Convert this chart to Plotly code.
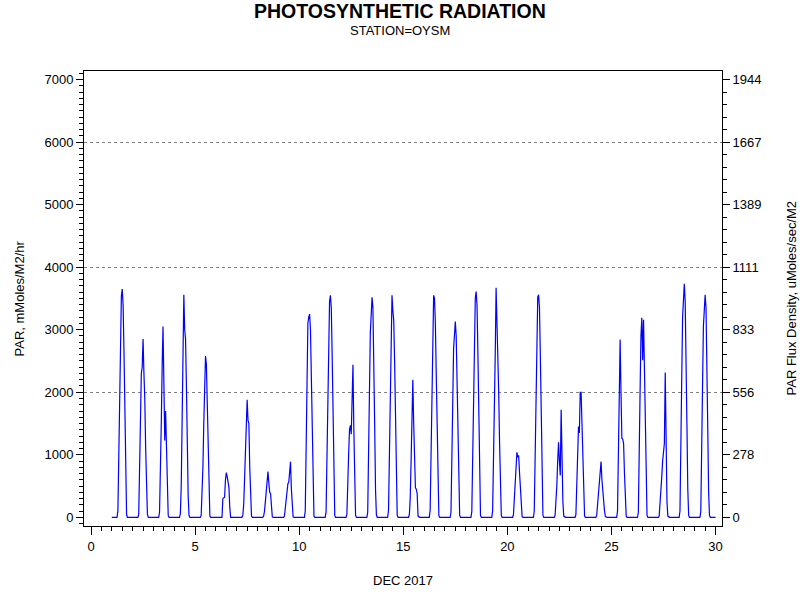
import plotly.graph_objects as go

# Hourly PAR (mMoles/M2/hr), hours 0..23, for Dec 1..29 2017, station OYSM
dec01 = [0, 0, 0, 0, 0, 0, 0, 110, 910, 2120, 3100, 3540, 3650, 3390, 2660, 1530, 440, 40, 0, 0, 0, 0, 0, 0]
dec02 = [0, 0, 0, 0, 0, 0, 0, 40, 700, 1900, 2300, 2400, 2850, 2300, 1900, 1100, 400, 50, 0, 0, 0, 0, 0, 0]
dec03 = [0, 0, 0, 0, 0, 0, 0, 80, 600, 1500, 2400, 3050, 2150, 1230, 1700, 1200, 450, 30, 0, 0, 0, 0, 0, 0]
dec04 = [0, 0, 0, 0, 0, 0, 0, 60, 500, 1500, 2700, 3560, 3000, 2850, 2100, 1100, 350, 30, 0, 0, 0, 0, 0, 0]
dec05 = [0, 0, 0, 0, 0, 0, 0, 30, 300, 800, 1500, 2100, 2580, 2450, 1700, 900, 250, 20, 0, 0, 0, 0, 0, 0]
dec06 = [0, 0, 0, 0, 0, 0, 0, 0, 300, 310, 320, 600, 714, 650, 510, 480, 150, 0, 0, 0, 0, 0, 0, 0]
dec07 = [0, 0, 0, 0, 0, 0, 0, 30, 200, 600, 1100, 1600, 1880, 1550, 1500, 800, 250, 20, 0, 0, 0, 0, 0, 0]
dec08 = [0, 0, 0, 0, 0, 0, 0, 20, 100, 250, 400, 600, 730, 550, 400, 380, 150, 10, 0, 0, 0, 0, 0, 0]
dec09 = [0, 0, 0, 0, 0, 0, 0, 20, 150, 350, 500, 540, 560, 700, 890, 450, 150, 10, 0, 0, 0, 0, 0, 0]
dec10 = [0, 0, 0, 0, 0, 0, 0, 100, 900, 2200, 3100, 3200, 3250, 3000, 2200, 1100, 300, 20, 0, 0, 0, 0, 0, 0]
dec11 = [0, 0, 0, 0, 0, 0, 0, 90, 850, 2050, 3000, 3450, 3550, 3350, 2600, 1450, 420, 30, 0, 0, 0, 0, 0, 0]
dec12 = [0, 0, 0, 0, 0, 0, 0, 50, 400, 1000, 1400, 1470, 1330, 2000, 2440, 1400, 400, 30, 0, 0, 0, 0, 0, 0]
dec13 = [0, 0, 0, 0, 0, 0, 0, 80, 800, 2000, 2950, 3420, 3520, 3350, 2650, 1500, 450, 40, 0, 0, 0, 0, 0, 0]
dec14 = [0, 0, 0, 0, 0, 0, 0, 120, 1000, 2300, 3200, 3550, 3300, 3150, 2500, 1400, 400, 30, 0, 0, 0, 0, 0, 0]
dec15 = [0, 0, 0, 0, 0, 0, 0, 40, 300, 900, 1700, 2200, 1500, 800, 470, 450, 380, 20, 0, 0, 0, 0, 0, 0]
dec16 = [0, 0, 0, 0, 0, 0, 0, 120, 950, 2250, 3150, 3550, 3500, 3100, 2300, 1300, 380, 30, 0, 0, 0, 0, 0, 0]
dec17 = [0, 0, 0, 0, 0, 0, 0, 80, 700, 1800, 2700, 3050, 3130, 2900, 2200, 1200, 350, 30, 0, 0, 0, 0, 0, 0]
dec18 = [0, 0, 0, 0, 0, 0, 0, 90, 850, 2100, 3050, 3500, 3610, 3400, 2650, 1500, 440, 30, 0, 0, 0, 0, 0, 0]
dec19 = [0, 0, 0, 0, 0, 0, 0, 100, 800, 1800, 2600, 3670, 3200, 2800, 2000, 1200, 400, 30, 0, 0, 0, 0, 0, 0]
dec20 = [0, 0, 0, 0, 0, 0, 0, 40, 300, 700, 1000, 1040, 960, 990, 720, 500, 150, 10, 0, 0, 0, 0, 0, 0]
dec21 = [0, 0, 0, 0, 0, 0, 0, 100, 900, 2150, 3100, 3520, 3560, 3350, 2600, 1450, 420, 30, 0, 0, 0, 0, 0, 0]
dec22 = [0, 0, 0, 0, 0, 0, 0, 30, 200, 500, 900, 1200, 900, 670, 1720, 800, 250, 20, 0, 0, 0, 0, 0, 0]
dec23 = [0, 0, 0, 0, 0, 0, 0, 40, 500, 1200, 1450, 1350, 2000, 2000, 1500, 900, 300, 20, 0, 0, 0, 0, 0, 0]
dec24 = [0, 0, 0, 0, 0, 0, 0, 30, 200, 350, 420, 600, 890, 600, 400, 250, 100, 10, 0, 0, 0, 0, 0, 0]
dec25 = [0, 0, 0, 0, 0, 0, 0, 100, 900, 1900, 2845, 2000, 1260, 1250, 1180, 700, 200, 20, 0, 0, 0, 0, 0, 0]
dec26 = [0, 0, 0, 0, 0, 0, 0, 80, 800, 2000, 2900, 3190, 2510, 3160, 2400, 1400, 400, 30, 0, 0, 0, 0, 0, 0]
dec27 = [0, 0, 0, 0, 0, 0, 0, 20, 300, 550, 650, 900, 1100, 1180, 2317, 800, 250, 20, 0, 0, 0, 0, 0, 0]
dec28 = [0, 0, 0, 0, 0, 0, 0, 100, 900, 2200, 3200, 3650, 3735, 3450, 2700, 1500, 450, 30, 0, 0, 0, 0, 0, 0]
dec29 = [0, 0, 0, 0, 0, 0, 0, 90, 850, 2100, 3050, 3480, 3559, 3350, 2600, 1450, 420, 30, 0, 0, 0, 0, 0, 0]
dec30_midnight = [0]

days = [dec01, dec02, dec03, dec04, dec05, dec06, dec07, dec08, dec09, dec10,
        dec11, dec12, dec13, dec14, dec15, dec16, dec17, dec18, dec19, dec20,
        dec21, dec22, dec23, dec24, dec25, dec26, dec27, dec28, dec29]

left_ticks = [0, 1000, 2000, 3000, 4000, 5000, 6000, 7000]
right_tick_labels = ["0", "278", "556", "833", "1111", "1389", "1667", "1944"]
x_ticks = [0, 5, 10, 15, 20, 25, 30]
grid_levels = [2000, 4000, 6000]

x, y = [], []
for d, vals in enumerate(days, start=1):
    for h, v in enumerate(vals):
        x.append(d + h / 24.0)
        y.append(v)
x.append(30.0)
y.append(dec30_midnight[0])

FONT = "Liberation Sans, Arial, sans-serif"
ylo, yhi = -139, 7137
conv = 3.6  # mMoles/M2/hr -> uMoles/sec/M2

fig = go.Figure()
fig.add_trace(go.Scatter(x=[None], y=[None], yaxis="y3", showlegend=False, hoverinfo="skip"))
fig.add_trace(go.Scatter(x=[None], y=[None], yaxis="y2", showlegend=False, hoverinfo="skip"))
fig.add_trace(go.Scatter(x=x, y=y, mode="lines", line=dict(color="#0000FF", width=1.2),
                         showlegend=False, hoverinfo="x+y"))

fig.update_layout(
    width=800, height=600,
    paper_bgcolor="white", plot_bgcolor="white",
    margin=dict(l=84, r=78, t=71, b=74),
    font=dict(family=FONT, size=13, color="black"),
    showlegend=False,
    xaxis=dict(range=[-0.337, 30.31], tickvals=x_ticks, ticks="outside", ticklen=8,
               tickcolor="black", showline=True, linecolor="black", linewidth=1,
               mirror=True, showgrid=False, zeroline=False,
               minor=dict(dtick=0.5, ticks="outside", ticklen=4, tickcolor="black", showgrid=False),
               tickfont=dict(size=13)),
    yaxis=dict(range=[ylo, yhi], tickvals=left_ticks, ticks="outside", ticklen=7,
               tickcolor="black", showline=True, linecolor="black", linewidth=1,
               showgrid=False, zeroline=False,
               minor=dict(dtick=100, ticks="outside", ticklen=4, tickcolor="black", showgrid=False),
               tickfont=dict(size=13)),
    yaxis2=dict(range=[ylo / conv, yhi / conv], overlaying="y", side="right",
                tickvals=[v / conv for v in left_ticks], ticktext=right_tick_labels,
                ticks="outside", ticklen=7, tickcolor="black", showline=True,
                linecolor="black", linewidth=1, showgrid=False, zeroline=False,
                minor=dict(dtick=200 / conv, ticks="outside", ticklen=4, tickcolor="black", showgrid=False),
                tickfont=dict(size=13)),
    yaxis3=dict(range=[ylo, yhi], overlaying="y", tickvals=grid_levels, showticklabels=False,
                ticks="", showgrid=True, gridcolor="#808080", gridwidth=1, griddash="3px,3px",
                zeroline=False, showline=False),
)

fig.add_annotation(text="<b>PHOTOSYNTHETIC RADIATION</b>", xref="paper", yref="paper",
                   x=(400 - 84) / 638, y=1 + (71 - 11) / 455, xanchor="center", yanchor="middle",
                   showarrow=False, font=dict(size=19.5, family=FONT))
fig.add_annotation(text="STATION=OYSM", xref="paper", yref="paper",
                   x=(400 - 84) / 638, y=1 + (71 - 30) / 455, xanchor="center", yanchor="middle",
                   showarrow=False, font=dict(size=13, family=FONT))
fig.add_annotation(text="DEC 2017", xref="paper", yref="paper",
                   x=(403 - 84) / 638, y=-(580 - 526) / 455, xanchor="center", yanchor="middle",
                   showarrow=False, font=dict(size=13, family=FONT))
fig.add_annotation(text="PAR, mMoles/M2/hr", xref="paper", yref="paper", textangle=-90,
                   x=(19 - 84) / 638, y=0.5, xanchor="center", yanchor="middle",
                   showarrow=False, font=dict(size=13, family=FONT))
fig.add_annotation(text="PAR Flux Density, uMoles/sec/M2", xref="paper", yref="paper", textangle=-90,
                   x=(791 - 84) / 638, y=0.5, xanchor="center", yanchor="middle",
                   showarrow=False, font=dict(size=13, family=FONT))

fig.write_html("out.html", config={"displayModeBar": False},
               post_script="document.body.style.margin='0';document.body.style.padding='0';")
